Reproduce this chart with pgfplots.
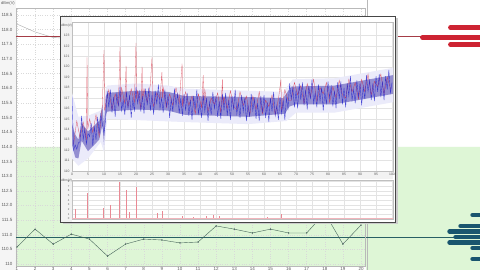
\documentclass[border=0pt]{standalone}
\usepackage{pgfplots}
\pgfplotsset{compat=1.18}
\usepackage{fontspec}
\setmainfont{Liberation Sans}
\pgfplotsset{/pgf/number format/assume math mode=true}
\definecolor{greenbg}{RGB}{222,246,214}
\definecolor{dataline}{RGB}{70,100,90}
\definecolor{tealline}{RGB}{40,95,100}
\definecolor{redline}{RGB}{165,60,70}
\definecolor{capred}{RGB}{205,35,50}
\definecolor{capteal}{RGB}{25,85,110}
\definecolor{sigblue}{RGB}{35,35,205}
\definecolor{sigcore}{RGB}{40,30,160}
\definecolor{sigred}{RGB}{215,40,60}
\definecolor{labgray}{RGB}{90,90,90}
\begin{document}
\begin{tikzpicture}[x=1pt,y=1pt]
\clip (0,0) rectangle (480,270);
\fill[white] (0,0) rectangle (480,270);
\fill[gray!8] (0,0) rectangle (16,270);
\node[anchor=west, font=\fontsize{4}{4.5}\selectfont, text=labgray, inner sep=0pt] at (1,266.5) {dBm(V)};
% ---------------- outer chart: threshold band ----------------
\begin{axis}[at={(16pt,4pt)}, anchor=south west, scale only axis,
  width=349pt, height=258pt, hide axis,
  xmin=0.945, xmax=20.22, ymin=109.932, ymax=118.739]
\addplot[fill=greenbg, draw=none] coordinates {(0.945,109.932) (20.22,109.932) (20.22,114) (0.945,114) (0.945,109.932)};
\end{axis}
% ---------------- outer chart ----------------
\begin{axis}[at={(16pt,4pt)}, anchor=south west, scale only axis,
  width=349pt, height=258pt,
  xmin=0.945, xmax=20.22, ymin=109.932, ymax=118.739,
  xtick={1,2,3,4,5,6,7,8,9,10,11,12,13,14,15,16,17,18,19,20},
  ytick={110,110.5,111,111.5,112,112.5,113,113.5,114,114.5,115,115.5,116,116.5,117,117.5,118,118.5},
  yticklabels={110,110.5,111.0,111.5,112.0,112.5,113.0,113.5,114.0,114.5,115.0,115.5,116.0,116.5,117.0,117.5,118.0,118.5},
  tick label style={font=\fontsize{4.5}{5}\selectfont, text=labgray},
  xticklabel style={yshift=2.5pt},
  major tick length=0pt,
  grid=major, grid style={gray!30, dotted},
  axis line style={gray!55}]
\addplot[gray!65, line width=0.4pt] coordinates {(1,118.19) (2,117.92) (3,117.73) (4,117.70) (5,117.76) (6,117.68) (7,117.72) (8,117.80) (9,117.75) (10,117.70) (11,117.74) (12,117.82) (13,117.78) (14,117.73) (15,117.79) (16,117.76) (17,117.71) (18,117.85) (19,117.70) (20,117.80)};
\addplot[redline, line width=0.5pt] coordinates {(0.945,117.78) (20.22,117.78)};
\addplot[tealline, line width=0.8pt] coordinates {(0.945,110.92) (20.22,110.92)};
\addplot[dataline, line width=0.4pt, mark=*, mark size=0.45pt] coordinates {
(1,110.58) (2,111.19) (3,110.68) (4,111.02) (5,110.85) (6,110.27) (7,110.68) (8,110.85) (9,110.82) (10,110.72)
(11,110.75) (12,111.30) (13,111.19) (14,111.06) (15,111.19) (16,111.06) (17,111.06) (18,111.74) (19,110.68) (20,111.33)};
\end{axis}
% ---------------- right histogram panel ----------------
\begin{axis}[at={(366pt,0pt)}, anchor=south west, scale only axis,
  width=114pt, height=270pt, xmin=366, xmax=480, ymin=0, ymax=270, y dir=reverse, hide axis]
\addplot[fill=greenbg, draw=none] coordinates {(366,147) (480,147) (480,270) (366,270) (366,147)};
\addplot[gray!55, line width=0.5pt] coordinates {(367.5,0) (367.5,270)};
\addplot[redline, line width=0.5pt] coordinates {(366,36.5) (421,36.5)};
\addplot[tealline, line width=0.8pt] coordinates {(366,237) (480,237)};
\addplot[capred, line width=4.8pt, line cap=round] coordinates {(450.5,27.5) (490,27.5)};
\addplot[capred, line width=4.8pt, line cap=round] coordinates {(422.5,37.5) (490,37.5)};
\addplot[capred, line width=4.8pt, line cap=round] coordinates {(450.5,44.5) (490,44.5)};
\addplot[capteal, line width=4.4pt, line cap=round] coordinates {(472.5,215) (490,215)};
\addplot[capteal, line width=4.4pt, line cap=round] coordinates {(460.5,226) (490,226)};
\addplot[capteal, line width=4.4pt, line cap=round] coordinates {(449.5,231.5) (490,231.5)};
\addplot[capteal, line width=4.4pt, line cap=round] coordinates {(455.5,237) (490,237)};
\addplot[capteal, line width=4.4pt, line cap=round] coordinates {(449.5,242.5) (490,242.5)};
\addplot[capteal, line width=4.4pt, line cap=round] coordinates {(472.5,248) (490,248)};
\addplot[capteal, line width=4.4pt, line cap=round] coordinates {(472.5,259) (490,259)};
\end{axis}
% ---------------- inner window ----------------
\fill[gray!40] (62.5,45.5) rectangle (397.5,251.5);
\fill[white] (60,48) rectangle (395,254);
\fill[gray!10] (60,48) rectangle (72,254);
\fill[gray!10] (72,91) rectangle (393,99);
\draw[gray!55!black, line width=0.8pt] (60,48) rectangle (395,254);
\node[anchor=west, font=\fontsize{3.2}{3.5}\selectfont, text=labgray, inner sep=0pt] at (61,244.5) {dBm(V)};
\node[anchor=west, font=\fontsize{3.2}{3.5}\selectfont, text=labgray, inner sep=0pt] at (61,89) {dBm(V)};
\begin{axis}[at={(72pt,99pt)}, anchor=south west, scale only axis,
  width=321pt, height=149pt,
  xmin=0, xmax=100.3, ymin=110, ymax=124.3,
  xtick={0,5,10,15,20,25,30,35,40,45,50,55,60,65,70,75,80,85,90,95,100},
  ytick={110,111,112,113,114,115,116,117,118,119,120,121,122,123},
  tick label style={font=\fontsize{3.4}{3.8}\selectfont, text=labgray},
  xticklabel style={yshift=1.5pt},
  yticklabel style={xshift=1pt},
  major tick length=0pt,
  grid=major, grid style={gray!22},
  axis line style={gray!50}]
% light fringe of the noise band
\addplot[fill=sigblue!9, draw=none] coordinates {
(0,117.5) (2,115.2) (5,115.3) (9,115.8) (10.5,117.8) (11,118.2) (20,118.4) (30,118.2) (35,117.9) (55,117.7) (66,117.6) (69,118.8) (82,118.9) (100.3,119.9)
(100.3,116.6) (82,115.6) (70,115.6) (67,114.8) (55,114.5) (35,114.7) (11,115.0) (10,111.8) (9,112.8) (5,111.2) (2,110.5) (0,111.2)};
% dense core of the noise band
\addplot[fill=sigcore, fill opacity=0.45, draw=none] coordinates {
(0,114.5) (1,113.5) (2,113.0) (3,114.6) (5,113.8) (8.5,114.8) (9.5,116.3) (10,114.5) (10.5,117.1) (11,117.5) (20,117.7) (30,117.6) (35,117.2) (55,117.1) (66,117.0) (68.5,118.1) (82,118.2) (100.3,119.2)
(100.3,117.4) (82,116.4) (70,116.4) (68,116.2) (66.5,115.5) (55,115.2) (35,115.4) (30,115.8) (20,115.9) (11,115.7) (10.5,115.3) (10,112.5) (9.5,114.4) (8.5,113.0) (5,111.9) (3,112.9) (2,111.2) (1,111.3) (0,112.5)};
\addplot[sigred, line width=0.28pt, opacity=0.8] coordinates {
(0.5,112.6) (1.5,114.8) (2.5,113.2) (3.5,114.7) (4.5,113.0) (4.7,120.9) (4.9,114.0) (5.5,115.0) (6.5,113.7) (7.5,115.4) (8.5,113.3) (9.5,116.3)
(10,121.6) (10.2,115.8) (10.5,116.3) (11.5,117.8) (12.5,115.9) (13.5,117.4) (14.5,116.3) (15,121.9) (15.2,116.6) (15.5,118.0) (16.5,116.5)
(16.9,120.1) (17.1,116.8) (17.5,116.2) (18.5,117.9) (19.5,116.6) (20,122.3) (20.2,116.9) (20.5,117.7) (21.5,116.0) (21.9,120.0) (22.1,116.8)
(22.5,117.9) (23.5,116.6) (24.5,118.3) (25,120.9) (25.2,116.7) (25.5,116.2) (26.5,117.5) (27.5,116.9) (28.1,119.5) (28.3,117.0) (28.5,118.0)
(29.5,116.1) (30.5,117.4) (31.5,116.3) (32.5,118.0) (33.5,116.5) (34.4,120.3) (34.5,116.2) (35.5,117.6) (36.5,116.3) (37.5,117.2)
(38.5,115.5) (39.5,117.4) (40.5,116.1) (41,119.2) (41.2,116.4) (41.5,117.8) (42.5,115.7) (43.5,117.0) (44.5,116.4) (45.5,117.5) (46.5,115.6)
(47,118.8) (47.2,116.3) (47.5,117.1) (48.5,116.0) (49.5,117.7) (50.5,116.2) (51.5,115.9) (52.5,117.6) (53.5,116.3) (54.5,117.2) (55.5,115.3)
(56.5,117.2) (57.5,115.9) (58.5,117.6) (59.5,115.5) (60.5,116.8) (61.5,116.2) (62.5,117.3) (63.5,115.4) (64.5,116.9) (65.3,118.8) (65.4,116.2)
(65.5,115.8) (66.5,117.8) (67.5,116.8) (68.5,116.8) (69.5,118.5) (70.5,117.3) (71.5,118.2) (72.5,116.5) (73.5,118.4) (74.5,117.1) (75.5,118.8)
(76.5,116.7) (77.5,118.0) (78.5,117.4) (79.5,118.5) (80.5,116.6) (81.5,118.1) (82.5,117.0) (83.5,118.7) (84.5,117.3) (85.5,117.0) (86.5,118.8)
(87.5,117.6) (88.5,118.5) (89.5,116.9) (90.5,118.8) (91.5,117.6) (92.5,119.3) (93.5,117.3) (94.5,118.6) (95.5,118.1) (96.5,119.3) (97.5,117.4)
(98.5,119.0) (99.5,117.9)};
\addplot[sigblue, line width=0.4pt, opacity=0.8] coordinates {
(0,117.2) (0.5,112.0) (1,112.5) (1.5,112.1) (2,112.7) (2.5,112.8) (3,115.3) (3.5,113.0) (4,114.0) (4.5,112.6) (5,113.6) (5.5,113.3)
(6,114.6) (6.5,112.4) (7,114.2) (7.5,113.0) (8,115.2) (8.5,113.6) (9,115.4) (9.5,114.5) (10,113.6) (10.5,114.9) (11,117.7) (11.5,116.1)
(12,117.8) (12.5,115.6) (13,117.1) (13.5,115.2) (14,117.5) (14.5,116.2) (15,118.1) (15.5,115.8) (16,116.8) (16.5,115.4) (17,117.6) (17.5,116.0)
(18,117.3) (18.5,115.1) (19,116.9) (19.5,115.7) (20,118.1) (20.5,116.5) (21,117.6) (21.5,115.7) (22,117.2) (22.5,115.5) (23,117.9) (23.5,116.3)
(24,118.0) (24.5,115.8) (25,117.3) (25.5,115.4) (26,117.7) (26.5,116.4) (27,118.3) (27.5,116.0) (28,117.0) (28.5,115.6) (29,117.8) (29.5,116.2)
(30,117.3) (30.5,115.1) (31,116.9) (31.5,115.7) (32,117.9) (32.5,116.3) (33,117.4) (33.5,115.5) (34,117.0) (34.5,115.3) (35,117.4) (35.5,115.8)
(36,117.5) (36.5,115.3) (37,116.8) (37.5,114.9) (38,117.2) (38.5,115.9) (39,117.8) (39.5,115.5) (40,116.5) (40.5,115.1) (41,117.3) (41.5,115.7)
(42,117.0) (42.5,114.8) (43,116.6) (43.5,115.4) (44,117.6) (44.5,116.0) (45,117.1) (45.5,115.2) (46,116.7) (46.5,115.0) (47,117.4) (47.5,115.8)
(48,117.5) (48.5,115.3) (49,116.8) (49.5,114.9) (50,117.2) (50.5,115.9) (51,117.8) (51.5,115.5) (52,116.5) (52.5,115.1) (53,117.3) (53.5,115.7)
(54,117.0) (54.5,114.8) (55,116.4) (55.5,115.2) (56,117.4) (56.5,115.8) (57,116.9) (57.5,115.0) (58,116.5) (58.5,114.8) (59,117.2) (59.5,115.6)
(60,117.3) (60.5,115.1) (61,116.6) (61.5,114.7) (62,117.0) (62.5,115.7) (63,117.6) (63.5,115.3) (64,116.3) (64.5,114.9) (65,117.1) (65.5,115.5)
(66,116.8) (66.5,114.9) (67,117.0) (67.5,116.0) (68,118.4) (68.5,116.9) (69,118.0) (69.5,116.1) (70,117.7) (70.5,116.0) (71,118.4) (71.5,116.8)
(72,118.5) (72.5,116.3) (73,117.8) (73.5,115.9) (74,118.2) (74.5,116.9) (75,118.8) (75.5,116.5) (76,117.5) (76.5,116.1) (77,118.3) (77.5,116.7)
(78,118.0) (78.5,115.8) (79,117.6) (79.5,116.4) (80,118.6) (80.5,117.0) (81,118.1) (81.5,116.2) (82,117.7) (82.5,116.0) (83,118.5) (83.5,116.9)
(84,118.6) (84.5,116.4) (85,118.0) (85.5,116.1) (86,118.4) (86.5,117.2) (87,119.1) (87.5,116.8) (88,117.8) (88.5,116.5) (89,118.7) (89.5,117.1)
(90,118.4) (90.5,116.3) (91,118.1) (91.5,116.9) (92,119.2) (92.5,117.6) (93,118.7) (93.5,116.8) (94,118.4) (94.5,116.7) (95,119.1) (95.5,117.6)
(96,119.3) (96.5,117.1) (97,118.6) (97.5,116.8) (98,119.1) (98.5,117.8) (99,119.7) (99.5,117.5) (100,118.5)};
\end{axis}
\begin{axis}[at={(72pt,51pt)}, anchor=south west, scale only axis,
  width=321pt, height=39pt,
  xmin=0, xmax=100.3, ymin=0, ymax=8.3,
  xtick={0,5,10,15,20,25,30,35,40,45,50,55,60,65,70,75,80,85,90,95,100},
  xticklabels={},
  ytick={0,1,2,3,4,5,6,7,8},
  tick label style={font=\fontsize{2.8}{3}\selectfont, text=labgray},
  yticklabel style={xshift=1pt},
  major tick length=0pt,
  grid=major, grid style={gray!22},
  axis line style={gray!50}]
\addplot[sigred!55, ycomb, line width=0.3pt] coordinates {
(0.9,2.1) (4.7,5.5) (9.7,2.3) (11.9,3.0) (14.7,7.9) (16.9,6.2) (17.8,1.5) (20,6.8) (26.6,1.3) (28.1,1.7) (34.4,0.6)
(38,0.5) (42,0.7) (44,0.9) (46,0.6) (61,0.4) (65.3,1.0)};
\addplot[sigred!35, line width=0.3pt] coordinates {(0,0.15) (100.3,0.15)};
\end{axis}
\end{tikzpicture}
\end{document}
